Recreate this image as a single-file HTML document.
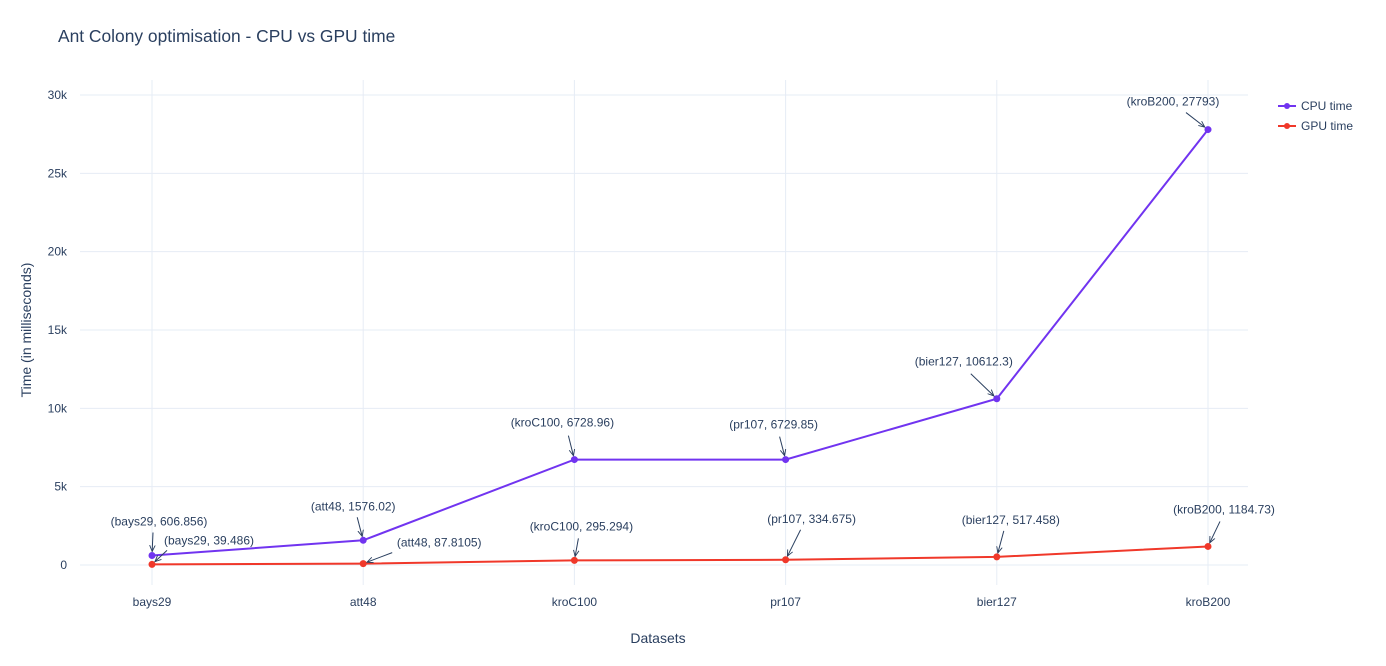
<!DOCTYPE html>
<html><head><meta charset="utf-8"><style>
body{margin:0;background:#fff;}
svg text{font-family:"Liberation Sans",Arial,sans-serif;fill:#2a3f5f;}
</style></head><body>
<svg id="chart" width="1386" height="661" xmlns="http://www.w3.org/2000/svg">
<defs><marker id="ah" viewBox="0 0 10 10" refX="9" refY="5" markerWidth="7" markerHeight="7" orient="auto"><path d="M0,1 L9,5 L0,9" fill="none" stroke="#2a3f5f" stroke-width="1.3"/></marker></defs>
<text x="58" y="42" font-size="17.4">Ant Colony optimisation - CPU vs GPU time</text>
<g id="grid"></g><g id="yticks"></g><g id="xticks"></g><g id="series"></g><g id="annots"></g>
<text x="658" y="643" font-size="14" text-anchor="middle">Datasets</text>
<text transform="translate(31,330) rotate(-90)" font-size="14" text-anchor="middle">Time (in milliseconds)</text>
<g>
<g><line x1="1278" y1="106" x2="1296" y2="106" stroke="#7134f0" stroke-width="2"/><circle cx="1287" cy="106" r="3" fill="#7134f0"/><text x="1301" y="110" font-size="12">CPU time</text></g>
<g><line x1="1278" y1="126" x2="1296" y2="126" stroke="#f0382a" stroke-width="2"/><circle cx="1287" cy="126" r="3" fill="#f0382a"/><text x="1301" y="130" font-size="12">GPU time</text></g>
</g>
</svg>
<script>
const categories=["bays29","att48","kroC100","pr107","bier127","kroB200"];
const cpuTime=[606.856,1576.02,6728.96,6729.85,10612.3,27793];
const gpuTime=[39.486,87.8105,295.294,334.675,517.458,1184.73];
const yTickVals=[0,5000,10000,15000,20000,25000,30000];
const yTickLabels=["0","5k","10k","15k","20k","25k","30k"];

const NS="http://www.w3.org/2000/svg";
const X=i=>152+i*211.2;
const Y=v=>565-v*470/30000;
function mk(tag,attrs,parent){const e=document.createElementNS(NS,tag);for(const k in attrs)e.setAttribute(k,attrs[k]);parent.appendChild(e);return e;}
const grid=document.getElementById('grid'),yt=document.getElementById('yticks'),xt=document.getElementById('xticks'),ser=document.getElementById('series'),an=document.getElementById('annots');
yTickVals.forEach((v,i)=>{
  const l=mk('line',{x1:80,x2:1248,y1:Y(v),y2:Y(v),stroke:'#e6ecf5','stroke-width':1},grid);
  
  
  const t=mk('text',{x:67,y:Y(v)+4,'font-size':12,'text-anchor':'end'},yt);t.textContent=yTickLabels[i];
  
  
});
categories.forEach((c,i)=>{
  const l=mk('line',{x1:X(i),x2:X(i),y1:80,y2:585,stroke:'#e6ecf5','stroke-width':1},grid);
  
  
  const t=mk('text',{x:X(i),y:606,'font-size':12,'text-anchor':'middle'},xt);t.textContent=c;
  
  
});
function drawSeries(vals,color,name){
  const p=mk('polyline',{points:vals.map((v,i)=>X(i)+','+Y(v)).join(' '),fill:'none',stroke:color,'stroke-width':2},ser);
  
  
  vals.forEach((v,i)=>{const c=mk('circle',{cx:X(i),cy:Y(v),r:3.5,fill:color},ser);
    
    });
}
drawSeries(cpuTime,'#7134f0','cpu');
drawSeries(gpuTime,'#f0382a','gpu');
const cpuOff=[[7,-34,1,-23],[-10,-34,-6,-23],[-12,-37,-6,-24],[-12,-35,-6,-23],[-33,-37,-26,-25],[-35,-28,-22,-17]];
const gpuOff=[[57,-24,15,-14],[76,-21,29,-11],[7,-34,4,-22],[26,-41,15,-30],[14,-37,7,-26],[16,-37,12,-25]];
function drawAnn(vals,off,name){
  vals.forEach((v,i)=>{
    const px=X(i),py=Y(v),o=off[i];
    const ang=Math.atan2(py-(py+o[3]),px-(px+o[2]));
    const a=mk('line',{x1:px+o[2],y1:py+o[3],x2:px-Math.cos(ang)*4,y2:py-Math.sin(ang)*4,stroke:'#2a3f5f','stroke-width':1,'marker-end':'url(#ah)'},an);
    
    
    const t=mk('text',{x:px+o[0],y:py+o[1]+4,'font-size':12,'text-anchor':'middle'},an);
    t.textContent='('+categories[i]+', '+v+')';
    
    
  });
}
drawAnn(cpuTime,cpuOff,'cpu');
drawAnn(gpuTime,gpuOff,'gpu');
</script>
</body></html>
